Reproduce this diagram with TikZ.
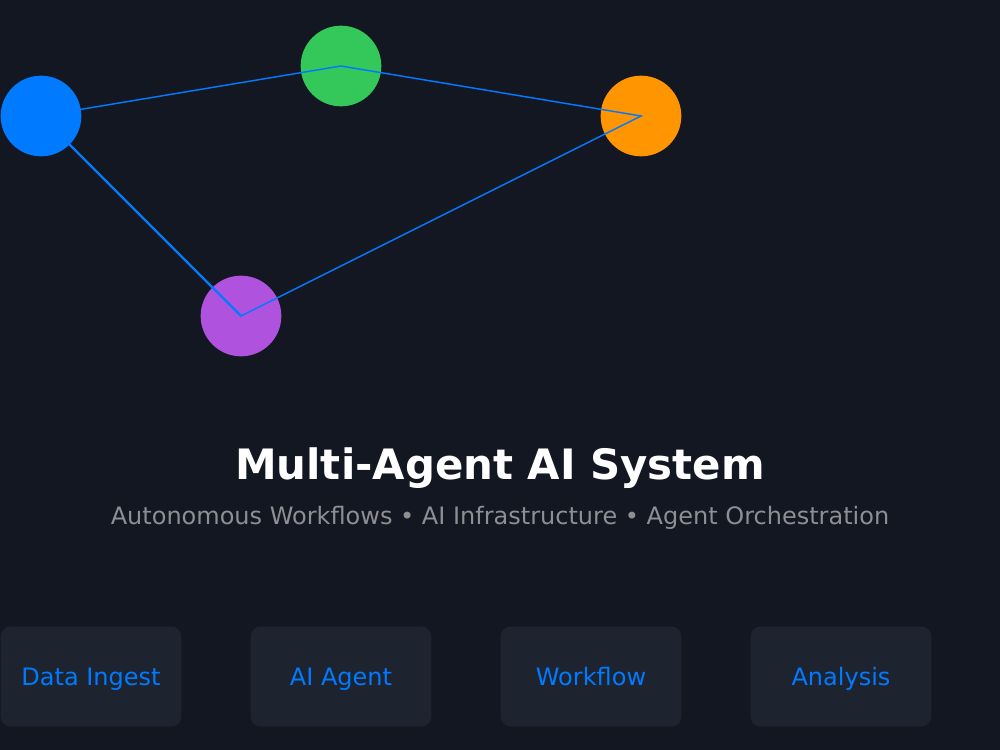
\documentclass[tikz,border=0pt]{standalone}
\usepackage{fontspec}
\setmainfont{DejaVu Sans}
\definecolor{bgc}{HTML}{131722}
\definecolor{boxc}{HTML}{1E2330}
\definecolor{cblue}{HTML}{007AFF}
\definecolor{cgreen}{HTML}{34C759}
\definecolor{corange}{HTML}{FF9500}
\definecolor{cpurple}{HTML}{AF52DE}
\definecolor{subc}{HTML}{8E8E93}
\begin{document}
\begin{tikzpicture}[x=0.75pt,y=-0.75pt,
  agent/.style={circle,minimum size=60.5pt,inner sep=0pt},
  link/.style={draw=cblue,line width=1.1pt},
  card/.style={fill=boxc,rounded corners=7.5pt,minimum width=135.5pt,minimum height=75pt,inner sep=0pt,text height=15pt,text depth=1.5pt,text=cblue,font=\fontsize{18}{22}\selectfont}]
\fill[bgc] (0,0) rectangle (1000,750);
\useasboundingbox (0,0) rectangle (1000,750);
\node[agent,fill=cblue] (a) at (41,116) {};
\node[agent,fill=cgreen] (b) at (341,66) {};
\node[agent,fill=corange] (c) at (641,116) {};
\node[agent,fill=cpurple] (d) at (241,316) {};
\draw[link] (a.center) -- (b.center) -- (c.center) -- (d.center);
\draw[link,line width=1.6pt] (d.center) -- (a.center);
\node[text=white,font=\bfseries\fontsize{31.4}{38}\selectfont,anchor=base] (title) at (500,479) {Multi-Agent AI System};
\node[text=subc,font=\fontsize{18}{22}\selectfont,anchor=base] (sub) at (500,524) {Autonomous Workflows • AI Infrastructure • Agent Orchestration};
\node[card] (k1) at (91,676.5) {Data Ingest};
\node[card] (k2) at (341,676.5) {AI Agent};
\node[card] (k3) at (591,676.5) {Workflow};
\node[card] (k4) at (841,676.5) {Analysis};
\end{tikzpicture}
\end{document}
